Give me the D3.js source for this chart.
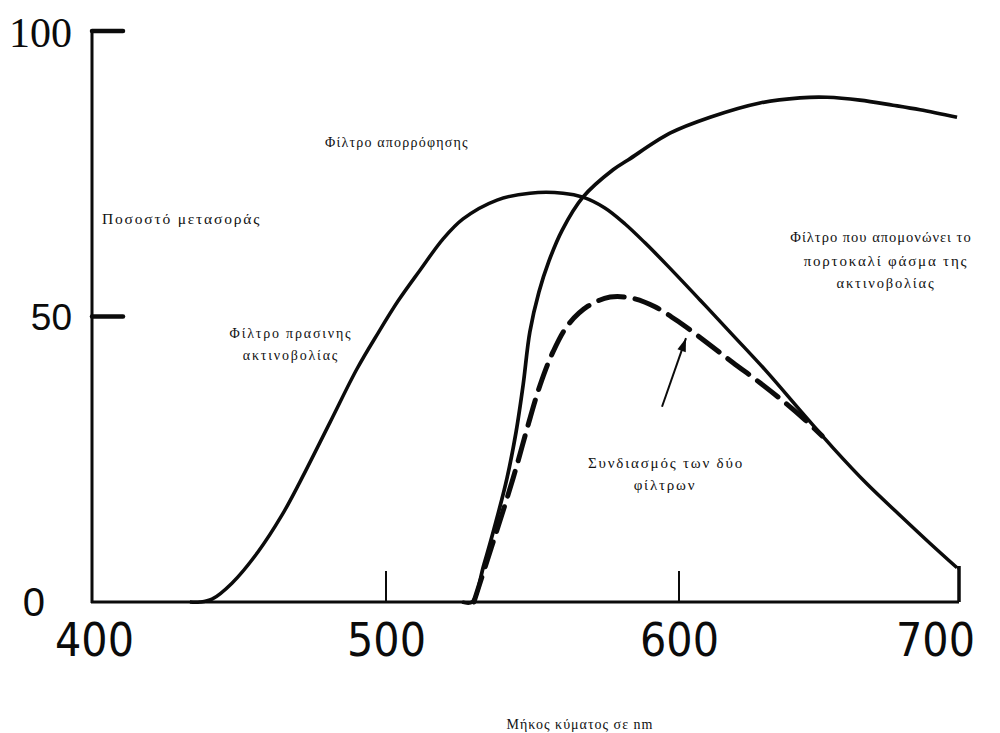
<!DOCTYPE html>
<html>
<head>
<meta charset="utf-8">
<script src="https://cdn.jsdelivr.net/npm/d3@7"></script>
<style>
  html, body { margin: 0; padding: 0; background: #fff; }
  svg { display: block; }
  .note { font-family: "Liberation Serif", "DejaVu Serif", serif; fill: #111; }
</style>
</head>
<body>
<svg id="chart" width="1000" height="733"></svg>
<script>
// Wavelength (nm) and transmission (%) for each filter curve
const greenNm  = [433.3, 436.7, 440.8, 447.6, 456.5, 464.6, 470.7, 481.0, 490.1, 497.3, 504.1, 511.6, 519.5, 526.3, 537.9, 549.1, 560.4, 567.2, 574.7, 581.6, 588.4, 595.9, 607.5, 619.3, 631.4, 643.2, 655.0, 667.1, 678.9, 689.6, 699.3];
const greenPct = [0,     0,     0.5,   3.3,   8.8,   15.2,  21.0,  31.5,  40.8,  47.1,  52.7,  58.1,  63.6,  67.1,  70.4,  71.6,  71.6,  70.9,  69.0,  66.2,  62.9,  59.0,  52.9,  46.7,  40.3,  33.6,  27.0,  20.7,  15.2,  10.3,  6.0];

const absorbNm  = [526, 529.4, 533.4, 537.5, 541.3, 544.4, 546.8, 549.1, 552.2, 555.6, 560.1, 567.2, 577.5, 582.6, 596.9, 611.1, 628.9, 643.2, 652.9, 664.6, 676.4, 686.1, 699.3];
const absorbPct = [0,   0,     6.5,   14.0,  21.7,  29.8,  38.0,  47.3,  54.3,  59.7,  65.1,  70.9,  75.7,  77.4,  82.1,  84.9,  87.4,  88.3,  88.4,  87.9,  87.0,  86.2,  84.9];

const comboNm  = [530.0, 535.5, 540.6, 544.7, 548.5, 552.6, 557.0, 562.1, 568.9, 576.5, 584.0, 591.8, 600.4, 610.0, 619.3, 628.9, 637.9, 645.0, 651.1];
const comboPct = [0,     8.8,   17.0,  24.0,  31.0,  38.0,  43.8,  48.5,  51.8,  53.4,  53.2,  51.7,  48.9,  45.4,  41.9,  38.4,  34.9,  31.9,  29.1];

// Axis ticks
const xTicks = [400, 500, 600, 700];
const xTickLabels = ["400", "500", "600", "700"];
const xMarkedTicks = [500, 600];
const yTicks = [0, 50, 100];
const yTickLabels = ["0", "50", "100"];
const yMarkedTicks = [50, 100];

// Pointer from the label to the combined curve (nm, %)
const arrowFrom = [594.2, 34.2];
const arrowTo   = [602.5, 46.2];

const svg = d3.select("#chart");

// Hand-ruled axis: the gridline spacing is slightly uneven, so the scale is piecewise
const x = d3.scaleLinear().domain([400, 500, 600, 700]).range([92, 386, 679, 959]);
const y = d3.scaleLinear().domain([0, 100]).range([602, 31]);

const ink = "#0b0b0b";

// ---- axes ----
const axes = svg.append("g");
axes.append("line")
  .attr("x1", x(400)).attr("x2", x(400))
  .attr("y1", y(100) - 1).attr("y2", y(0) + 1)
  .attr("stroke", ink).attr("stroke-width", 3);
axes.append("line")
  .attr("x1", x(400) - 1).attr("x2", x(700))
  .attr("y1", y(0)).attr("y2", y(0))
  .attr("stroke", ink).attr("stroke-width", 3);

axes.selectAll(".ytick").data(yMarkedTicks).join("line")
  .attr("x1", x(400)).attr("x2", x(400) + 31)
  .attr("y1", d => y(d)).attr("y2", d => y(d))
  .attr("stroke", ink).attr("stroke-width", 4.5).attr("stroke-linecap", "round");

axes.selectAll(".xtick").data(xMarkedTicks).join("line")
  .attr("x1", d => x(d)).attr("x2", d => x(d))
  .attr("y1", y(0)).attr("y2", y(0) - 31)
  .attr("stroke", ink).attr("stroke-width", 2);

// tick labels through d3 axes
const xAxis = d3.axisBottom(x).tickValues(xTicks)
  .tickFormat((d, i) => xTickLabels[i]).tickSize(0).tickPadding(21);
const gx = svg.append("g").attr("transform", `translate(0,${y(0)})`).call(xAxis);
gx.select(".domain").remove();
gx.selectAll("text")
  .attr("font-family", "'Liberation Sans Narrow', 'DejaVu Sans Condensed', sans-serif")
  .attr("font-size", 46).attr("fill", ink)
  .attr("dx", d => d === 700 ? -24 : (d === 400 ? 2 : 0));

const yAxis = d3.axisLeft(y).tickValues(yTicks)
  .tickFormat((d, i) => yTickLabels[i]).tickSize(0).tickPadding(20);
const gy = svg.append("g").attr("transform", `translate(${x(400)},0)`).call(yAxis);
gy.select(".domain").remove();
gy.selectAll("text")
  .attr("fill", ink)
  .attr("font-family", d => d === 100 ? "'Liberation Serif', serif" : "'Liberation Sans', sans-serif")
  .attr("font-size", d => d === 100 ? 42 : (d === 50 ? 37 : 40))
  .attr("dx", d => d === 0 ? -27 : 0)
  .attr("dy", d => d === 100 ? "0.36em" : "0.34em");

// ---- curves ----
const toPts = (xs, ys) => xs.map((v, i) => [v, ys[i]]);
const line = d3.line().x(d => x(d[0])).y(d => y(d[1])).curve(d3.curveCatmullRom.alpha(0.5));

const greenPts = toPts(greenNm, greenPct);
svg.append("path").attr("d", line(greenPts))
  .attr("fill", "none").attr("stroke", ink).attr("stroke-width", 3.5);
// the green curve is closed down to the baseline at 700 nm
const gLast = greenPts[greenPts.length - 1];
svg.append("path")
  .attr("d", d3.line().x(d => x(d[0])).y(d => y(d[1]))([gLast, [700, gLast[1]], [700, 0]]))
  .attr("fill", "none").attr("stroke", ink).attr("stroke-width", 3.5);

svg.append("path").attr("d", line(toPts(absorbNm, absorbPct)))
  .attr("fill", "none").attr("stroke", ink).attr("stroke-width", 3.7);

svg.append("path").attr("d", line(toPts(comboNm, comboPct)))
  .attr("fill", "none").attr("stroke", ink).attr("stroke-width", 5)
  .attr("stroke-dasharray", "26 11").attr("stroke-linecap", "round");

// ---- pointer arrow ----
const ax0 = x(arrowFrom[0]), ay0 = y(arrowFrom[1]);
const ax1 = x(arrowTo[0]),   ay1 = y(arrowTo[1]);
svg.append("line")
  .attr("x1", ax0).attr("y1", ay0).attr("x2", ax1).attr("y2", ay1)
  .attr("stroke", ink).attr("stroke-width", 2);
const ang = Math.atan2(ay1 - ay0, ax1 - ax0);
const hl = 14, hw = 0.32;
svg.append("path")
  .attr("d", `M${ax1},${ay1}
    L${ax1 - hl * Math.cos(ang - hw)},${ay1 - hl * Math.sin(ang - hw)}
    L${ax1 - hl * Math.cos(ang + hw)},${ay1 - hl * Math.sin(ang + hw)}Z`)
  .attr("fill", ink);

// ---- annotations ----
const notes = [
  { t: "Ποσοστό μετασοράς", x: 102, y: 224, s: 15.5, ls: 1.8, a: "start" },
  { t: "Φίλτρο απορρόφησης", x: 325, y: 147, s: 14, ls: 1.2, a: "start" },
  { t: "Φίλτρο πρασινης", x: 291, y: 338, s: 14, ls: 1.8, a: "middle" },
  { t: "ακτινοβολίας", x: 291, y: 360, s: 14, ls: 1.8, a: "middle" },
  { t: "Φίλτρο που απομονώνει το", x: 881, y: 242, s: 14.5, ls: 1.0, a: "middle" },
  { t: "πορτοκαλί φάσμα της", x: 886, y: 266, s: 15, ls: 1.8, a: "middle" },
  { t: "ακτινοβολίας", x: 886, y: 288, s: 14.5, ls: 1.8, a: "middle" },
  { t: "Συνδιασμός των δύο", x: 666, y: 468, s: 15, ls: 1.8, a: "middle" },
  { t: "φίλτρων", x: 665, y: 490, s: 15, ls: 1.8, a: "middle" },
  { t: "Μήκος κύματος σε nm", x: 580, y: 729, s: 14, ls: 1.0, a: "middle" }
];
svg.selectAll(".note").data(notes).join("text")
  .attr("class", "note")
  .attr("x", d => d.x).attr("y", d => d.y)
  .attr("font-size", d => d.s)
  .attr("letter-spacing", d => d.ls)
  .attr("text-anchor", d => d.a)
  .text(d => d.t);
</script>
</body>
</html>
